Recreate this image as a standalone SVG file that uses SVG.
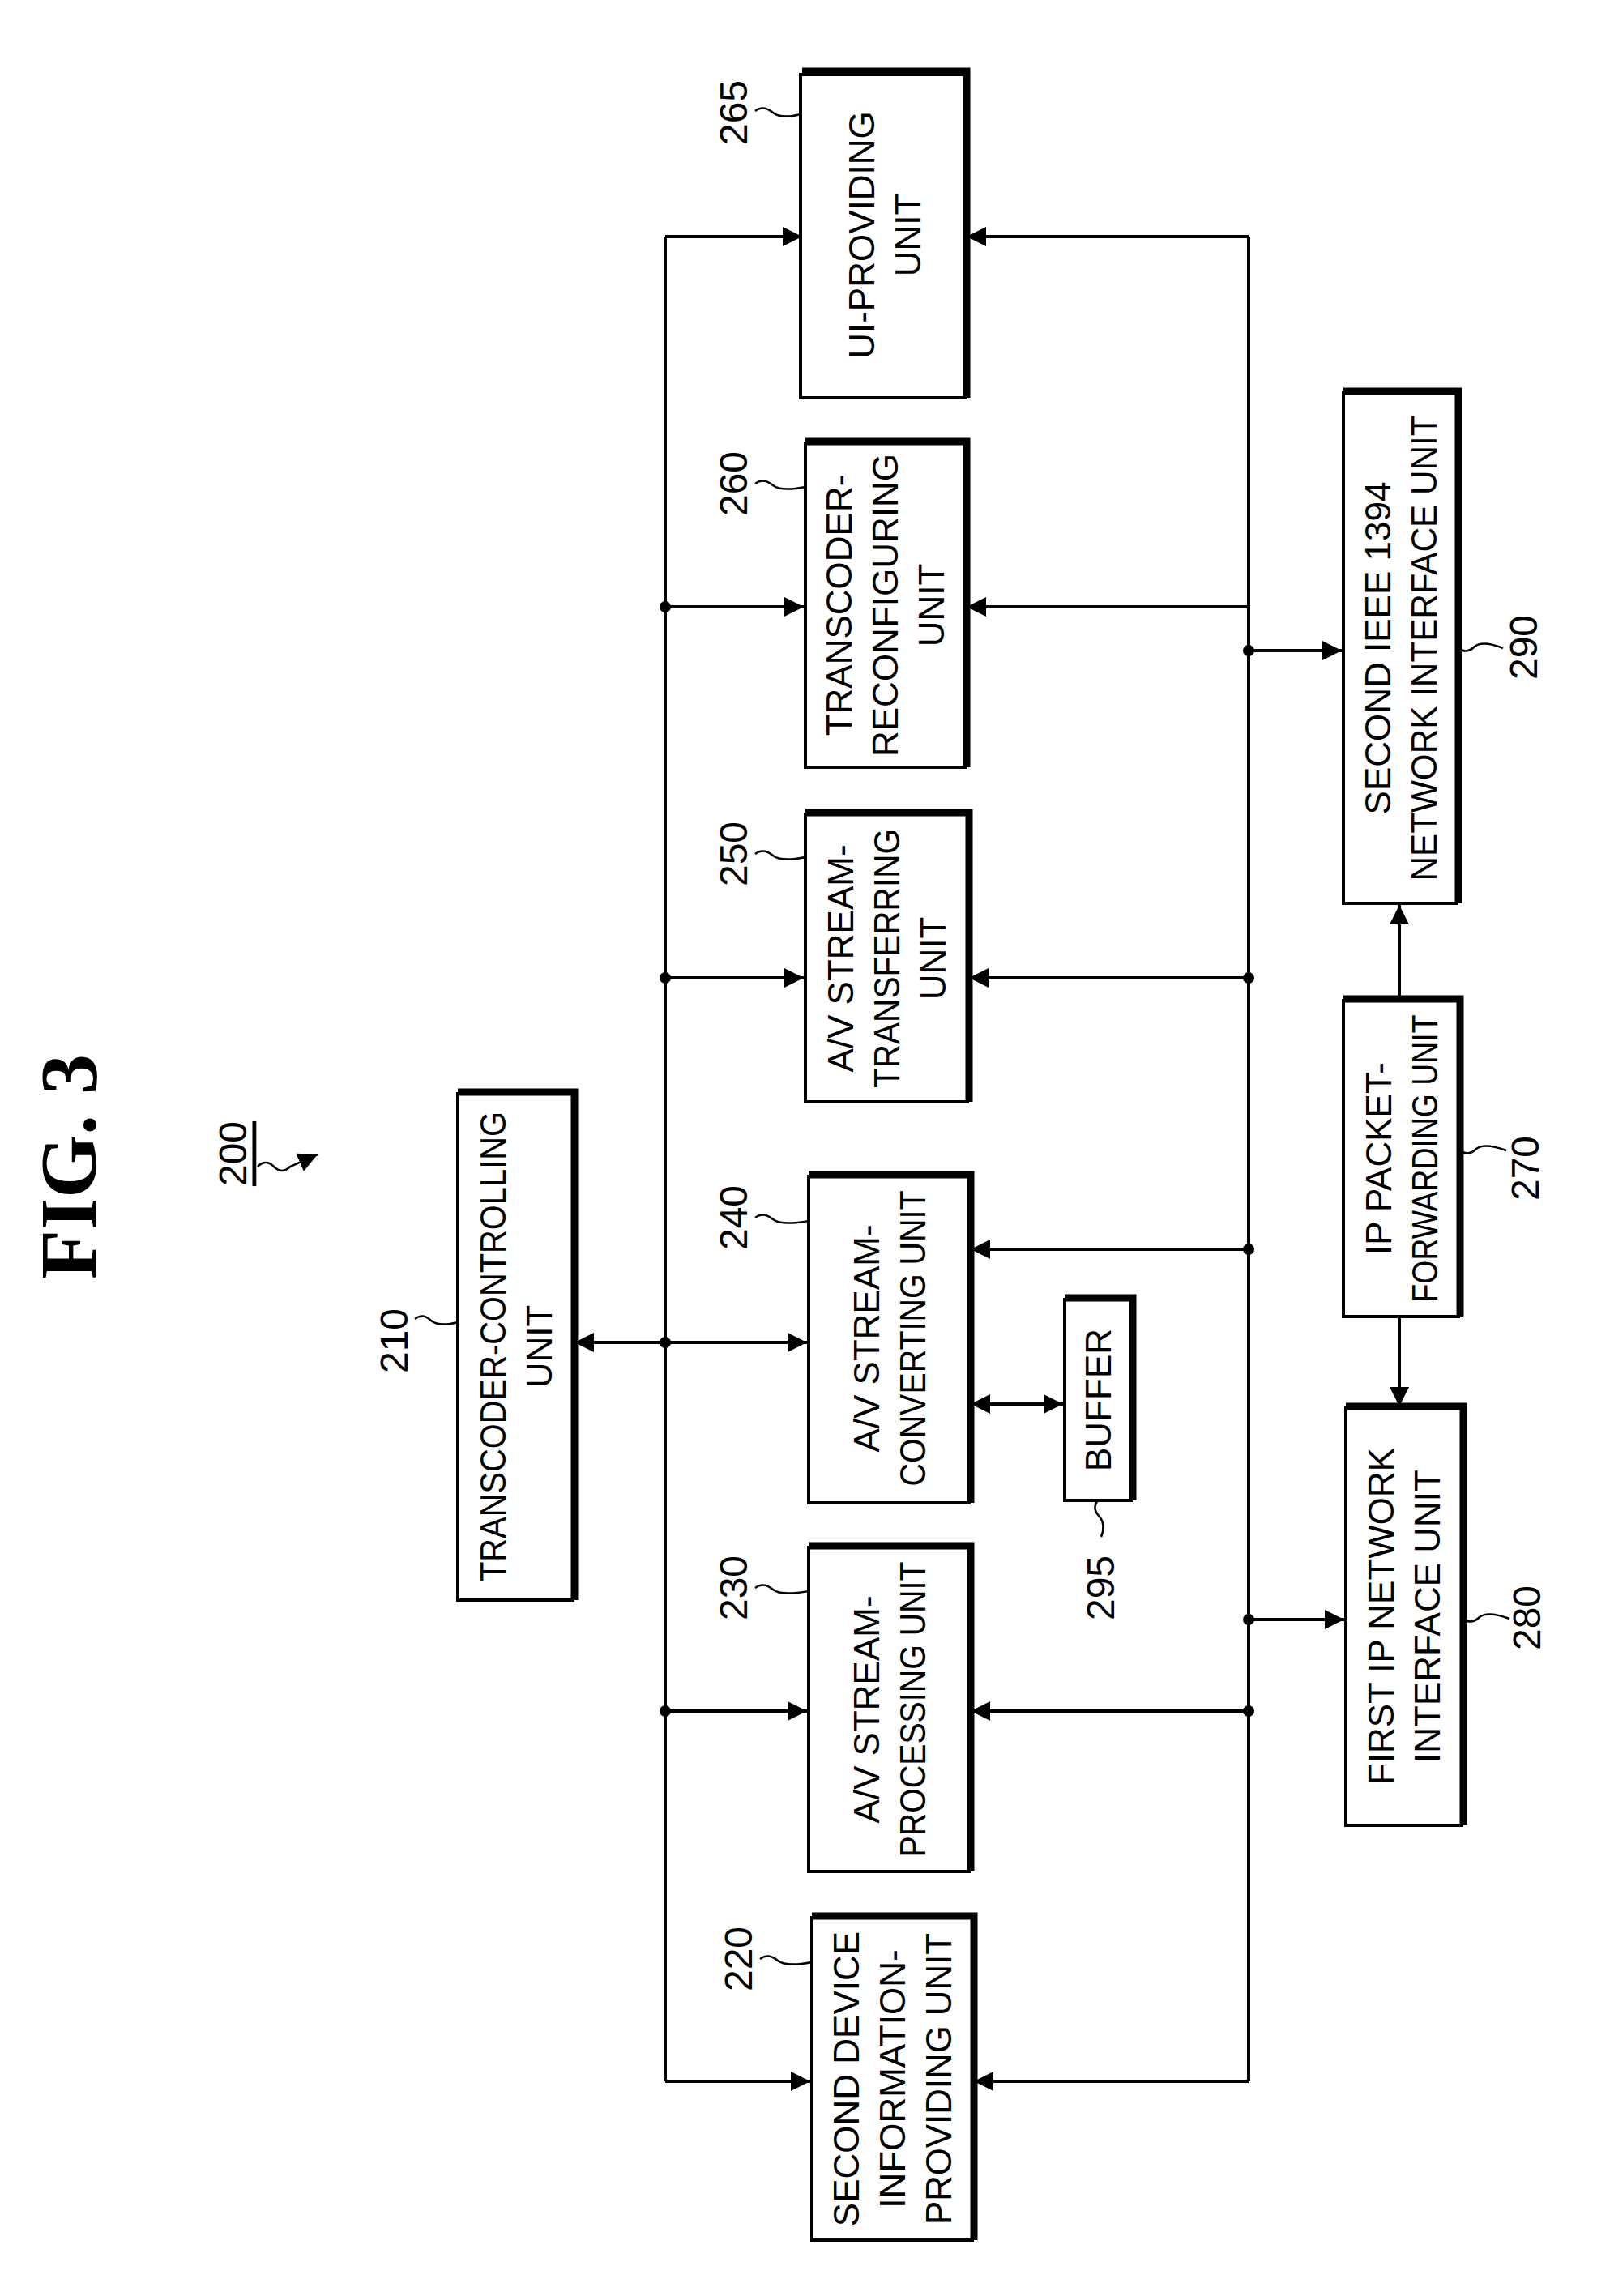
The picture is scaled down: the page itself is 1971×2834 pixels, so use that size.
<svg xmlns="http://www.w3.org/2000/svg" width="1971" height="2834" viewBox="0 0 1971 2834">
<style>
.box{fill:#fff;stroke:#000;stroke-width:4}
.sh{fill:none;stroke:#000;stroke-width:9}
.t{font-family:"Liberation Sans",Arial,sans-serif;font-size:44px;fill:#000;text-anchor:middle;dominant-baseline:central}
.n{font-family:"Liberation Sans",Arial,sans-serif;font-size:48px;fill:#000;text-anchor:middle;dominant-baseline:central}
.ln{fill:none;stroke:#000;stroke-width:4}
.ld{fill:none;stroke:#000;stroke-width:2.5}
</style>
<defs>
<marker id="a" viewBox="0 0 10 10" refX="10" refY="5" markerWidth="24" markerHeight="24" markerUnits="userSpaceOnUse" orient="auto-start-reverse"><path d="M0,0L10,5L0,10z" fill="#000"/></marker>
</defs>
<rect width="1971" height="2834" fill="#fff"/>
<text transform="translate(118,1440) rotate(-90)" font-family="Liberation Serif,serif" font-weight="bold" font-size="100" text-anchor="middle">FIG. 3</text>
<g id="ref200">
<text class="n" transform="translate(287,1424) rotate(-90)" text-decoration="underline">200</text>
<path class="ld" d="M318,1440 q10,-10 20,0 q10,10 20,0 L392,1425" marker-end="url(#a)"/>
</g>
<g id="connectors">
<path class="ln" d="M821,292 V2569 M1541,292 V2569"/>
<path class="ln" d="M821,292 H990" marker-end="url(#a)"/>
<path class="ln" d="M1541,292 H1193" marker-end="url(#a)"/>
<path class="ln" d="M821,749 H992" marker-end="url(#a)"/>
<path class="ln" d="M1541,749 H1193" marker-end="url(#a)"/>
<path class="ln" d="M1541,803 H1656" marker-end="url(#a)"/>
<path class="ln" d="M821,1207 H992" marker-end="url(#a)"/>
<path class="ln" d="M1541,1207 H1196" marker-end="url(#a)"/>
<path class="ln" d="M1541,1542 H1198" marker-end="url(#a)"/>
<path class="ln" d="M709,1657 H996" marker-start="url(#a)" marker-end="url(#a)"/>
<path class="ln" d="M1198,1733 H1312" marker-start="url(#a)" marker-end="url(#a)"/>
<path class="ln" d="M1541,1999 H1659" marker-end="url(#a)"/>
<path class="ln" d="M821,2112 H996" marker-end="url(#a)"/>
<path class="ln" d="M1541,2112 H1198" marker-end="url(#a)"/>
<path class="ln" d="M821,2569 H1000" marker-end="url(#a)"/>
<path class="ln" d="M1541,2569 H1202" marker-end="url(#a)"/>
<path class="ln" d="M1727,1229 V1117" marker-end="url(#a)"/>
<path class="ln" d="M1727,1625 V1736" marker-end="url(#a)"/>
<g fill="#000">
<circle cx="821" cy="749" r="7"/><circle cx="821" cy="1207" r="7"/><circle cx="821" cy="1657" r="7"/><circle cx="821" cy="2112" r="7"/>
<circle cx="1541" cy="803" r="7"/><circle cx="1541" cy="1207" r="7"/><circle cx="1541" cy="1542" r="7"/><circle cx="1541" cy="1999" r="7"/><circle cx="1541" cy="2112" r="7"/>
</g>
</g>
<g id="n265"><rect class="box" x="988" y="92" width="203" height="399"/><path class="sh" d="M990,88 H1193 V491"/>
<text class="t" transform="translate(1091,290) rotate(-90)"><tspan x="0" dy="-28">UI-PROVIDING</tspan><tspan x="0" dy="57">UNIT</tspan></text>
<text class="n" transform="translate(905,139) rotate(-90)">265</text><path class="ld" d="M932,137 q10,-8 22,2 q10,8 34,2"/></g>
<g id="n260"><rect class="box" x="994" y="547" width="197" height="400"/><path class="sh" d="M994,545 H1193 V947"/>
<text class="t" transform="translate(1092,747) rotate(-90)"><tspan x="0" dy="-57">TRANSCODER-</tspan><tspan x="0" dy="57">RECONFIGURING</tspan><tspan x="0" dy="57">UNIT</tspan></text>
<text class="n" transform="translate(905,597) rotate(-90)">260</text><path class="ld" d="M932,597 q10,-8 22,2 q10,8 40,2"/></g>
<g id="n250"><rect class="box" x="994" y="1005" width="200" height="355"/><path class="sh" d="M994,1003 H1196 V1360"/>
<text class="t" transform="translate(1094,1183) rotate(-90)"><tspan x="0" dy="-57">A/V STREAM-</tspan><tspan x="0" dy="57" textLength="320" lengthAdjust="spacingAndGlyphs">TRANSFERRING</tspan><tspan x="0" dy="57">UNIT</tspan></text>
<text class="n" transform="translate(905,1054) rotate(-90)">250</text><path class="ld" d="M932,1054 q10,-8 22,2 q10,8 40,2"/></g>
<g id="n240"><rect class="box" x="998" y="1452" width="198" height="403"/><path class="sh" d="M998,1450 H1198 V1855"/>
<text class="t" transform="translate(1097,1652) rotate(-90)"><tspan x="0" dy="-28">A/V STREAM-</tspan><tspan x="0" dy="57" textLength="365" lengthAdjust="spacingAndGlyphs">CONVERTING UNIT</tspan></text>
<text class="n" transform="translate(905,1503) rotate(-90)">240</text><path class="ld" d="M932,1503 q10,-8 22,2 q10,8 44,2"/></g>
<g id="n230"><rect class="box" x="998" y="1910" width="198" height="400"/><path class="sh" d="M998,1908 H1198 V2310"/>
<text class="t" transform="translate(1097,2110) rotate(-90)"><tspan x="0" dy="-28">A/V STREAM-</tspan><tspan x="0" dy="57" textLength="365" lengthAdjust="spacingAndGlyphs">PROCESSING UNIT</tspan></text>
<text class="n" transform="translate(905,1960) rotate(-90)">230</text><path class="ld" d="M932,1960 q10,-8 22,2 q10,8 44,2"/></g>
<g id="n220"><rect class="box" x="1002" y="2367" width="198" height="398"/><path class="sh" d="M1002,2365 H1202 V2765"/>
<text class="t" transform="translate(1101,2566) rotate(-90)"><tspan x="0" dy="-57">SECOND DEVICE</tspan><tspan x="0" dy="57">INFORMATION-</tspan><tspan x="0" dy="57" textLength="360" lengthAdjust="spacingAndGlyphs">PROVIDING UNIT</tspan></text>
<text class="n" transform="translate(911,2418) rotate(-90)">220</text><path class="ld" d="M938,2418 q10,-8 22,2 q10,8 42,2"/></g>
<g id="n210"><rect class="box" x="565" y="1350" width="142" height="625"/><path class="sh" d="M565,1348 H709 V1975"/>
<text class="t" transform="translate(636,1662) rotate(-90)"><tspan x="0" dy="-28" textLength="580" lengthAdjust="spacingAndGlyphs">TRANSCODER-CONTROLLING</tspan><tspan x="0" dy="57">UNIT</tspan></text>
<text class="n" transform="translate(486,1655) rotate(-90)">210</text><path class="ld" d="M512,1628 q10,-8 20,2 q10,8 33,2"/></g>
<g id="n295"><rect class="box" x="1314" y="1604" width="82" height="248"/><path class="sh" d="M1314,1602 H1398 V1852"/>
<text class="t" transform="translate(1355,1728) rotate(-90)">BUFFER</text>
<text class="n" transform="translate(1358,1960) rotate(-90)">295</text><path class="ld" d="M1355,1852 q-8,10 2,20 q8,10 2,25"/></g>
<g id="n290"><rect class="box" x="1658" y="485" width="140" height="630"/><path class="sh" d="M1658,483 H1800 V1115"/>
<text class="t" transform="translate(1728,800) rotate(-90)"><tspan x="0" dy="-28">SECOND  IEEE  1394</tspan><tspan x="0" dy="57" textLength="575" lengthAdjust="spacingAndGlyphs">NETWORK  INTERFACE UNIT</tspan></text>
<text class="n" transform="translate(1880,799) rotate(-90)">290</text><path class="ld" d="M1800,800 q10,8 20,-2 q10,-8 35,2"/></g>
<g id="n270"><rect class="box" x="1658" y="1235" width="142" height="390"/><path class="sh" d="M1658,1233 H1802 V1625"/>
<text class="t" transform="translate(1729,1430) rotate(-90)"><tspan x="0" dy="-28">IP PACKET-</tspan><tspan x="0" dy="57" textLength="355" lengthAdjust="spacingAndGlyphs">FORWARDING UNIT</tspan></text>
<text class="n" transform="translate(1882,1442) rotate(-90)">270</text><path class="ld" d="M1802,1420 q10,8 20,-2 q10,-8 37,2"/></g>
<g id="n280"><rect class="box" x="1661" y="1738" width="143" height="515"/><path class="sh" d="M1661,1736 H1806 V2253"/>
<text class="t" transform="translate(1732,1995) rotate(-90)"><tspan x="0" dy="-28">FIRST  IP  NETWORK</tspan><tspan x="0" dy="57">INTERFACE UNIT</tspan></text>
<text class="n" transform="translate(1884,1997) rotate(-90)">280</text><path class="ld" d="M1806,1998 q10,8 20,-2 q10,-8 37,2"/></g>
</svg>
